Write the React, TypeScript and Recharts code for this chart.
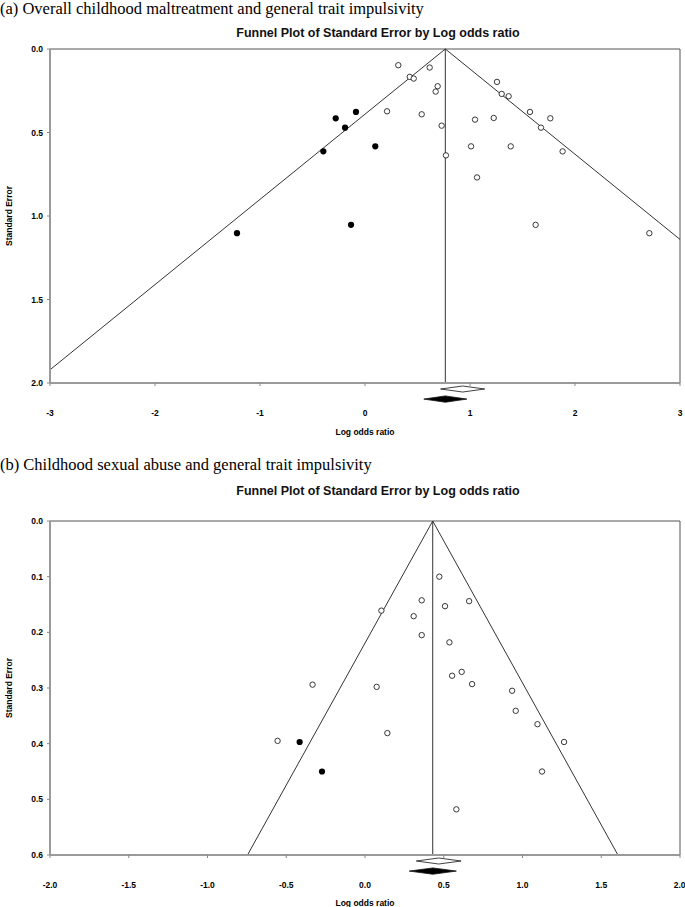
import React from "react";
import { ScatterChart, Scatter, XAxis, YAxis, ReferenceLine, ReferenceArea, Label } from "recharts";

// (a) overall maltreatment: [log odds ratio, standard error]
const aObserved = [
  [0.317, 0.097], [0.616, 0.111], [0.426, 0.167], [0.464, 0.177], [0.692, 0.223],
  [0.673, 0.255], [0.21, 0.373], [0.54, 0.391], [0.73, 0.459], [0.771, 0.637],
  [1.257, 0.197], [1.302, 0.269], [1.368, 0.283], [1.571, 0.377], [1.765, 0.415],
  [1.048, 0.423], [1.226, 0.413], [1.676, 0.471], [1.01, 0.583], [1.388, 0.583],
  [1.882, 0.613], [1.067, 0.769], [1.625, 1.053], [2.708, 1.103],
];
const aImputed = [
  [-0.279, 0.415], [-0.19, 0.471], [-0.086, 0.377], [-0.397, 0.613],
  [0.098, 0.583], [-1.219, 1.103], [-0.133, 1.053],
];
const aAdjusted = 0.765;
const aObservedCI = [0.72, 1.14];
const aAdjustedCI = [0.56, 0.97];
const aXTicks = [-3, -2, -1, 0, 1, 2, 3];
const aYTicks = [0, 0.5, 1, 1.5, 2];

// (b) sexual abuse
const bObserved = [
  [0.472, 0.1], [0.36, 0.1425], [0.661, 0.144], [0.508, 0.153], [0.104, 0.161],
  [0.309, 0.171], [0.36, 0.205], [0.536, 0.218], [0.614, 0.271], [0.553, 0.278],
  [0.68, 0.293], [-0.333, 0.294], [0.074, 0.298], [0.934, 0.305], [0.957, 0.341],
  [1.095, 0.365], [1.264, 0.397], [1.124, 0.45], [0.58, 0.518], [0.142, 0.381],
  [-0.555, 0.395],
];
const bImputed = [[-0.415, 0.397], [-0.273, 0.45]];
const bAdjusted = 0.43;
const bObservedCI = [0.326, 0.61];
const bAdjustedCI = [0.281, 0.58];
const bXTicks = [-2, -1.5, -1, -0.5, 0, 0.5, 1, 1.5, 2];
const bYTicks = [0, 0.1, 0.2, 0.3, 0.4, 0.5, 0.6];

const sans = "'Liberation Sans', Arial, sans-serif";
const serif = "'Liberation Serif', 'Times New Roman', serif";
const tickStyle = { fontSize: 8.5, fontWeight: 700, fill: "#000", fontFamily: sans };

const toPts = (rows: number[][]) => rows.map(([x, y]) => ({ x, y }));

const OpenDot = (p: any) => (
  <circle cx={p.cx} cy={p.cy} r={2.7} fill="#fff" stroke="#222" strokeWidth={0.9} />
);
const FilledDot = (p: any) => <circle cx={p.cx} cy={p.cy} r={3.1} fill="#000" />;

const Diamond = (p: any) => {
  const { x, y, width, height, fill } = p;
  const cx = x + width / 2;
  const cy = y + height / 2;
  return (
    <polygon
      points={`${x},${cy} ${cx},${y} ${x + width},${cy} ${cx},${y + height}`}
      fill={fill}
      stroke="#111"
      strokeWidth={0.8}
    />
  );
};

type FunnelProps = {
  top: number;
  height: number;
  observed: number[][];
  imputed: number[][];
  center: number;
  obsCI: number[];
  adjCI: number[];
  xTicks: number[];
  yTicks: number[];
  xDigits: number;
  diamondGap: number; // SE units for ~3px below the axis
  xLabelOffset: number;
};

const FunnelPlot = ({
  top, height, observed, imputed, center, obsCI, adjCI,
  xTicks, yTicks, xDigits, diamondGap, xLabelOffset,
}: FunnelProps) => {
  const xMin = xTicks[0];
  const xMax = xTicks[xTicks.length - 1];
  const seMax = yTicks[yTicks.length - 1];
  const leftSE = Math.min(seMax, (center - xMin) / 1.96);
  const rightSE = Math.min(seMax, (xMax - center) / 1.96);
  const g = diamondGap;
  return (
    <div style={{ position: "absolute", left: 0, top }}>
      <ScatterChart width={685} height={height} margin={{ top: 49, right: 5, bottom: 0, left: 0 }}>
        <XAxis
          type="number"
          dataKey="x"
          domain={[xMin, xMax]}
          ticks={xTicks}
          tickFormatter={(v: number) => v.toFixed(xDigits)}
          tick={tickStyle}
          tickSize={3}
          tickMargin={24}
          axisLine={{ stroke: "#9a9a9a", strokeWidth: 2 }}
          tickLine={{ stroke: "#888" }}
          height={height - 49 - 334}
        >
          <Label
            value="Log odds ratio"
            position="insideBottom"
            offset={xLabelOffset}
            style={{ fontSize: 8.5, fontWeight: 700, fill: "#000", fontFamily: sans }}
          />
        </XAxis>
        <YAxis
          type="number"
          dataKey="y"
          reversed
          domain={[0, seMax]}
          ticks={yTicks}
          tickFormatter={(v: number) => v.toFixed(1)}
          tick={tickStyle}
          tickSize={3}
          tickMargin={4}
          axisLine={{ stroke: "#9a9a9a", strokeWidth: 2 }}
          tickLine={{ stroke: "#888" }}
          width={50}
        >
          <Label
            value="Standard Error"
            angle={-90}
            position="insideLeft"
            offset={9}
            style={{ fontSize: 8.5, fontWeight: 700, fill: "#000", fontFamily: sans, textAnchor: "middle" }}
          />
        </YAxis>
        <ReferenceLine y={0} stroke="#555" strokeWidth={1} ifOverflow="visible" />
        <ReferenceLine x={xMax} stroke="#555" strokeWidth={1} ifOverflow="visible" />
        <ReferenceLine x={center} stroke="#333" strokeWidth={1} />
        <ReferenceLine
          segment={[{ x: center, y: 0 }, { x: center - 1.96 * leftSE, y: leftSE }]}
          stroke="#333"
          strokeWidth={1}
          ifOverflow="visible"
        />
        <ReferenceLine
          segment={[{ x: center, y: 0 }, { x: center + 1.96 * rightSE, y: rightSE }]}
          stroke="#333"
          strokeWidth={1}
          ifOverflow="visible"
        />
        <ReferenceArea
          x1={obsCI[0]}
          x2={obsCI[1]}
          y1={seMax + g * 1}
          y2={seMax + g * 3}
          fill="#fff"
          ifOverflow="visible"
          shape={Diamond}
        />
        <ReferenceArea
          x1={adjCI[0]}
          x2={adjCI[1]}
          y1={seMax + g * 4.3}
          y2={seMax + g * 6.4}
          fill="#000"
          ifOverflow="visible"
          shape={Diamond}
        />
        <Scatter data={toPts(observed)} shape={OpenDot} isAnimationActive={false} />
        <Scatter data={toPts(imputed)} shape={FilledDot} isAnimationActive={false} />
      </ScatterChart>
    </div>
  );
};

const Caption = ({ top, text }: { top: number; text: string }) => (
  <div
    style={{
      position: "absolute", left: 0, top, fontFamily: serif, fontSize: 16.5,
      lineHeight: "17px", color: "#000", whiteSpace: "nowrap",
    }}
  >
    {text}
  </div>
);

const Title = ({ top }: { top: number }) => (
  <div
    style={{
      position: "absolute", left: 0, top, width: 756, textAlign: "center",
      fontFamily: sans, fontSize: 12.5, fontWeight: 700, lineHeight: "14px", color: "#111",
      whiteSpace: "nowrap",
    }}
  >
    Funnel Plot of Standard Error by Log odds ratio
  </div>
);

export default function App() {
  return (
    <div style={{ position: "absolute", left: 0, top: 0, width: 685, height: 907, background: "#fff", overflow: "hidden" }}>
      <FunnelPlot
        top={0}
        height={450}
        observed={aObserved}
        imputed={aImputed}
        center={aAdjusted}
        obsCI={aObservedCI}
        adjCI={aAdjustedCI}
        xTicks={aXTicks}
        yTicks={aYTicks}
        xDigits={0}
        diamondGap={0.018}
        xLabelOffset={15}
      />
      <FunnelPlot
        top={472}
        height={435}
        observed={bObserved}
        imputed={bImputed}
        center={bAdjusted}
        obsCI={bObservedCI}
        adjCI={bAdjustedCI}
        xTicks={bXTicks}
        yTicks={bYTicks}
        xDigits={1}
        diamondGap={0.0054}
        xLabelOffset={1}
      />
      <Caption top={0} text="(a) Overall childhood maltreatment and general trait impulsivity" />
      <Title top={26} />
      <Caption top={456} text="(b) Childhood sexual abuse and general trait impulsivity" />
      <Title top={484} />
    </div>
  );
}
